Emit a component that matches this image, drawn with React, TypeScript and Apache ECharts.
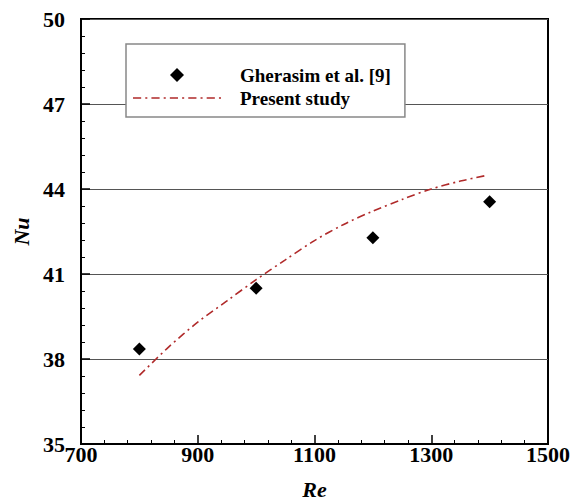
import React, { useEffect, useRef } from "react";
import * as echarts from "echarts";

const expRe = [800, 1000, 1200, 1400];
const expNu = [38.35, 40.5, 42.28, 43.55];

const simRe = [800, 850, 900, 950, 1000, 1050, 1100, 1150, 1200, 1250, 1300, 1350, 1395];
const simNu = [37.42, 38.42, 39.3, 40.05, 40.8, 41.5, 42.18, 42.75, 43.22, 43.63, 44.0, 44.28, 44.48];

const seriesNames = ["Gherasim et al. [9]", "Present study"];

const FONT = "Liberation Serif";

const DASH_DOT_ICON =
  "path://M0,0h8v1.6h-8z M12,0h2v1.6h-2z M18,0h8v1.6h-8z M30,0h2v1.6h-2z M36,0h8v1.6h-8z M48,0h2v1.6h-2z M54,0h8v1.6h-8z M66,0h2v1.6h-2z M72,0h8v1.6h-8z M84,0h2v1.6h-2z";

export default function App() {
  const ref = useRef<HTMLDivElement>(null);
  useEffect(() => {
    if (!ref.current) return;
    const chart = echarts.init(ref.current, undefined, { renderer: "svg" });
    chart.setOption({
      animation: false,
      backgroundColor: "#fff",
      textStyle: { fontFamily: FONT },
      grid: {
        left: 81,
        right: 25,
        top: 19,
        bottom: 59,
        containLabel: false,
        outerBoundsMode: "none",
        show: true,
        borderColor: "#000",
        borderWidth: 2,
        backgroundColor: "transparent",
      },
      legend: {
        orient: "vertical",
        left: 126,
        top: 44,
        backgroundColor: "#fff",
        borderColor: "#888",
        borderWidth: 1.5,
        padding: [21, 14, 9, 7],
        itemGap: 3,
        itemWidth: 88,
        itemHeight: 14,
        textStyle: {
          fontFamily: FONT,
          fontWeight: "bold",
          fontSize: 19,
          color: "#000",
          lineHeight: 20,
          padding: [0, 0, 0, 14],
        },
        data: [
          { name: seriesNames[0], icon: "path://M0,-1L1,0L0,1L-1,0Z" },
          { name: seriesNames[1], icon: DASH_DOT_ICON, itemStyle: { color: "#b02a2a" } },
        ],
      },
      xAxis: {
        type: "value",
        min: 700,
        max: 1500,
        interval: 200,
        name: "Re",
        nameLocation: "middle",
        nameGap: 34,
        nameTextStyle: {
          fontFamily: FONT,
          fontWeight: "bold",
          fontStyle: "italic",
          fontSize: 22,
          color: "#000",
        },
        axisLine: { show: true, lineStyle: { color: "#000", width: 2 } },
        axisTick: { show: true, inside: true, length: 9, lineStyle: { color: "#000", width: 1.5 } },
        minorTick: { show: true, splitNumber: 5, length: 4, lineStyle: { color: "#000", width: 1 } },
        splitLine: { show: false },
        axisLabel: {
          fontFamily: FONT,
          fontWeight: "bold",
          fontSize: 22,
          color: "#000",
          margin: -1,
          formatter: (v: number) => String(v),
        },
      },
      yAxis: {
        type: "value",
        min: 35,
        max: 50,
        interval: 3,
        name: "Nu",
        nameLocation: "middle",
        nameGap: 49,
        nameRotate: 90,
        nameTextStyle: {
          fontFamily: FONT,
          fontWeight: "bold",
          fontStyle: "italic",
          fontSize: 22,
          color: "#000",
        },
        axisLine: { show: true, lineStyle: { color: "#000", width: 2 } },
        axisTick: { show: true, inside: true, length: 9, lineStyle: { color: "#000", width: 1.5 } },
        minorTick: { show: true, splitNumber: 5, length: 4, lineStyle: { color: "#000", width: 1 } },
        splitLine: { show: true, lineStyle: { color: "#555", width: 1.2 } },
        axisLabel: {
          fontFamily: FONT,
          fontWeight: "bold",
          fontSize: 22,
          color: "#000",
          margin: 16,
          formatter: (v: number) => String(v),
        },
      },
      series: [
        {
          name: seriesNames[0],
          type: "scatter",
          data: expRe.map((x, i) => [x, expNu[i]]),
          symbol: "diamond",
          symbolSize: [13, 13],
          itemStyle: { color: "#000", opacity: 1 },
          z: 5,
        },
        {
          name: seriesNames[1],
          type: "line",
          data: simRe.map((x, i) => [x, simNu[i]]),
          smooth: 0.3,
          showSymbol: false,
          symbol: "none",
          itemStyle: { color: "#b02a2a" },
          lineStyle: { color: "#b02a2a", width: 1.6, type: [8, 4, 2, 4] },
          z: 4,
        },
      ],
    });
    return () => chart.dispose();
  }, []);
  return (
    <div
      ref={ref}
      style={{ position: "absolute", left: 0, top: 0, width: 573, height: 503 }}
    />
  );
}
